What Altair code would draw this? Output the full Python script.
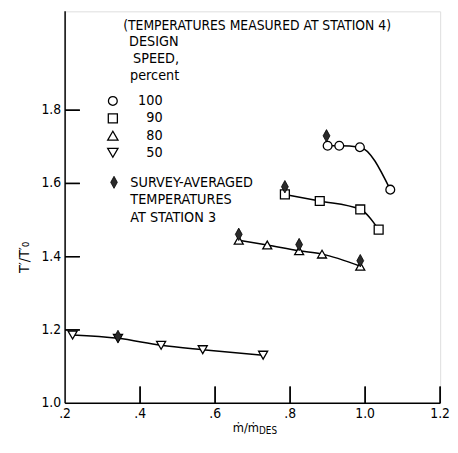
import altair as alt
import pandas as pd

# ---- data -------------------------------------------------------------
speeds = ["100", "90", "80", "50"]
shapes = ["circle", "square", "triangle-up", "triangle-down"]
sizes = [80, 85, 110, 110]

x100 = [0.900, 0.931, 0.986, 1.067]
y100 = [1.703, 1.703, 1.699, 1.583]
x90 = [0.786, 0.879, 0.987, 1.036]
y90 = [1.570, 1.552, 1.529, 1.474]
x80 = [0.663, 0.739, 0.824, 0.885, 0.987]
y80 = [1.445, 1.432, 1.416, 1.407, 1.374]
x50 = [0.220, 0.341, 0.456, 0.567, 0.728]
y50 = [1.186, 1.177, 1.158, 1.146, 1.131]

# survey-averaged temperatures at station 3
xs3 = [0.897, 0.786, 0.663, 0.824, 0.987, 0.341]
ys3 = [1.730, 1.591, 1.461, 1.433, 1.389, 1.182]

x_ticks = [0.2, 0.4, 0.6, 0.8, 1.0, 1.2]
x_tick_labels = [".2", ".4", ".6", ".8", "1.0", "1.2"]
y_ticks = [1.0, 1.2, 1.4, 1.6, 1.8]
y_tick_labels = ["1.0", "1.2", "1.4", "1.6", "1.8"]
x_inner_ticks = [0.4, 0.6, 0.8, 1.0, 1.2]
y_inner_ticks = [1.2, 1.4, 1.6, 1.8]

legend_title = ["(TEMPERATURES MEASURED AT STATION 4)", "DESIGN", "SPEED,", "percent"]
survey_text = ["SURVEY-AVERAGED", "TEMPERATURES", "AT STATION 3"]

# ---- build tables -----------------------------------------------------
rows = []
for sp, xs, ys in zip(speeds, [x100, x90, x80, x50], [y100, y90, y80, y50]):
    for a, b in zip(xs, ys):
        rows.append({"x": a, "y": b, "speed": sp})
df = pd.DataFrame(rows)
df_s3 = pd.DataFrame({"x": xs3, "y": ys3})
df_xt = pd.DataFrame({"xt": x_inner_ticks})
df_yt = pd.DataFrame({"yt": y_inner_ticks})
df_xl = pd.DataFrame({"xl": x_ticks, "lab": x_tick_labels})
df_yl = pd.DataFrame({"yl": y_ticks, "lab": y_tick_labels})

FONT = "DejaVu Sans Condensed, Liberation Sans Narrow, DejaVu Sans"
W, H = 381, 398
DIAMOND = "M0,-1L0.55,0L0,1L-0.55,0Z"

xscale = alt.Scale(domain=[0.2, 1.2], nice=False, zero=False)
yscale = alt.Scale(domain=[1.0, 2.07], nice=False, zero=False)

shape_scale = alt.Scale(domain=speeds, range=shapes)
size_scale = alt.Scale(domain=speeds, range=sizes)

lines = alt.Chart(df).mark_line(interpolate="monotone", color="black", strokeWidth=1.5).encode(
    x=alt.X("x:Q", scale=xscale, axis=None),
    y=alt.Y("y:Q", scale=yscale, axis=None),
    detail="speed:N",
)

points = alt.Chart(df).mark_point(fill="white", stroke="black", strokeWidth=1.3,
                                  opacity=1, fillOpacity=1).encode(
    x=alt.X("x:Q", scale=xscale, axis=None),
    y=alt.Y("y:Q", scale=yscale, axis=None),
    shape=alt.Shape("speed:N", scale=shape_scale, legend=None),
    size=alt.Size("speed:N", scale=size_scale, legend=None),
)

diamonds = alt.Chart(df_s3).mark_point(shape=DIAMOND, filled=True, color="#2a2a2a",
                                       stroke="black", strokeWidth=0.8, size=160,
                                       opacity=1).encode(
    x=alt.X("x:Q", scale=xscale, axis=None),
    y=alt.Y("y:Q", scale=yscale, axis=None),
)

# ---- hand-drawn axes: domain lines, inward ticks, labels ----------------
one = alt.Data(values=[{}])
y_domain = alt.Chart(one).mark_tick(orient="vertical", size=H, thickness=1.5,
                                    color="black", opacity=1).encode(
    x=alt.value(0), y=alt.value(H / 2))
x_domain = alt.Chart(one).mark_tick(orient="horizontal", size=W, thickness=1.5,
                                    color="black", opacity=1).encode(
    x=alt.value(W / 2), y=alt.value(H))

yticks = alt.Chart(df_yt).mark_tick(orient="horizontal", size=15, thickness=1.4,
                                    color="black", opacity=1).encode(
    y=alt.Y("yt:Q", scale=yscale, axis=None), x=alt.value(7.5))
xticks = alt.Chart(df_xt).mark_tick(orient="vertical", size=17, thickness=1.4,
                                    color="black", opacity=1).encode(
    x=alt.X("xt:Q", scale=xscale, axis=None), y=alt.value(H - 8.5))

# the same inward ticks again, one datum per layer, placed through the scales
tick_layers = []
for v in y_inner_ticks:
    tick_layers.append(alt.Chart(alt.Data(values=[{}])).mark_tick(
        orient="horizontal", size=15, thickness=1.4, color="black", opacity=1).encode(
        y=alt.YDatum(v, axis=None), x=alt.value(7.5)))
for v in x_inner_ticks:
    tick_layers.append(alt.Chart(alt.Data(values=[{}])).mark_tick(
        orient="vertical", size=17, thickness=1.4, color="black", opacity=1).encode(
        x=alt.XDatum(v, axis=None), y=alt.value(H - 8.5)))

ylabels = alt.Chart(df_yl).mark_text(align="right", baseline="middle", font=FONT,
                                     fontSize=14, fill="black").encode(
    y=alt.Y("yl:Q", scale=yscale, axis=None), x=alt.value(-4), text="lab:N")
xlabels = alt.Chart(df_xl).mark_text(align="center", baseline="top", font=FONT,
                                     fontSize=14, fill="black").encode(
    x=alt.X("xl:Q", scale=xscale, axis=None), y=alt.value(H + 4), text="lab:N")


def label(text, px, py, align="left", size=14.5, angle=0, baseline="middle"):
    kw = dict(align=align, baseline=baseline, font=FONT, fontSize=size, fill="black")
    if angle:
        kw["angle"] = angle
    return alt.Chart(alt.Data(values=[{"t": text}])).mark_text(**kw).encode(
        text="t:N", x=alt.value(px), y=alt.value(py))


def symbol(shape, px, py, size, filled=False):
    if filled:
        m = alt.Chart(alt.Data(values=[{}])).mark_point(shape=shape, filled=True, color="#2a2a2a",
                                                       stroke="black", strokeWidth=0.8, size=size, opacity=1)
    else:
        m = alt.Chart(alt.Data(values=[{}])).mark_point(shape=shape, fill="white", stroke="black",
                                                       strokeWidth=1.3, size=size, opacity=1)
    return m.encode(x=alt.value(px), y=alt.value(py))


ann = []
# legend header
for t, px, py in zip(legend_title, [59, 65, 69, 66], [15, 31, 48, 66]):
    ann.append(label(t, px, py, size=14 if px == 59 else 14.5))
# speed entries
for sp, sh, sz, py in zip(speeds, shapes, sizes, [91, 108.7, 126.3, 143.7]):
    ann.append(symbol(sh, 48.5, py, sz))
    ann.append(label(sp, 99, py, align="right"))
# survey entry
ann.append(symbol(DIAMOND, 49.7, 173.7, 150, filled=True))
for t, py in zip(survey_text, [174, 192, 209.7]):
    ann.append(label(t, 66.3, py))

# axis titles
ann.append(label("T\u2032/T\u2032\u2080", -41, 250, align="center", size=14.5, angle=270))
ann.append(label("\u1e41/\u1e41", 197, 423, align="right", size=13))
ann.append(label("DES", 197, 426.5, align="left", size=10))

chart = alt.layer(lines, points, diamonds, y_domain, x_domain, yticks, xticks,
                  *tick_layers, ylabels, xlabels, *ann).properties(
    width=W, height=H,
    autosize=alt.AutoSizeParams(type="none"),
    padding={"left": 58, "top": 0, "right": 10, "bottom": 31},
).configure_view(strokeWidth=0, stroke="transparent").configure(background="white")

chart.save("out.html", embed_options={"renderer": "svg", "actions": False})
